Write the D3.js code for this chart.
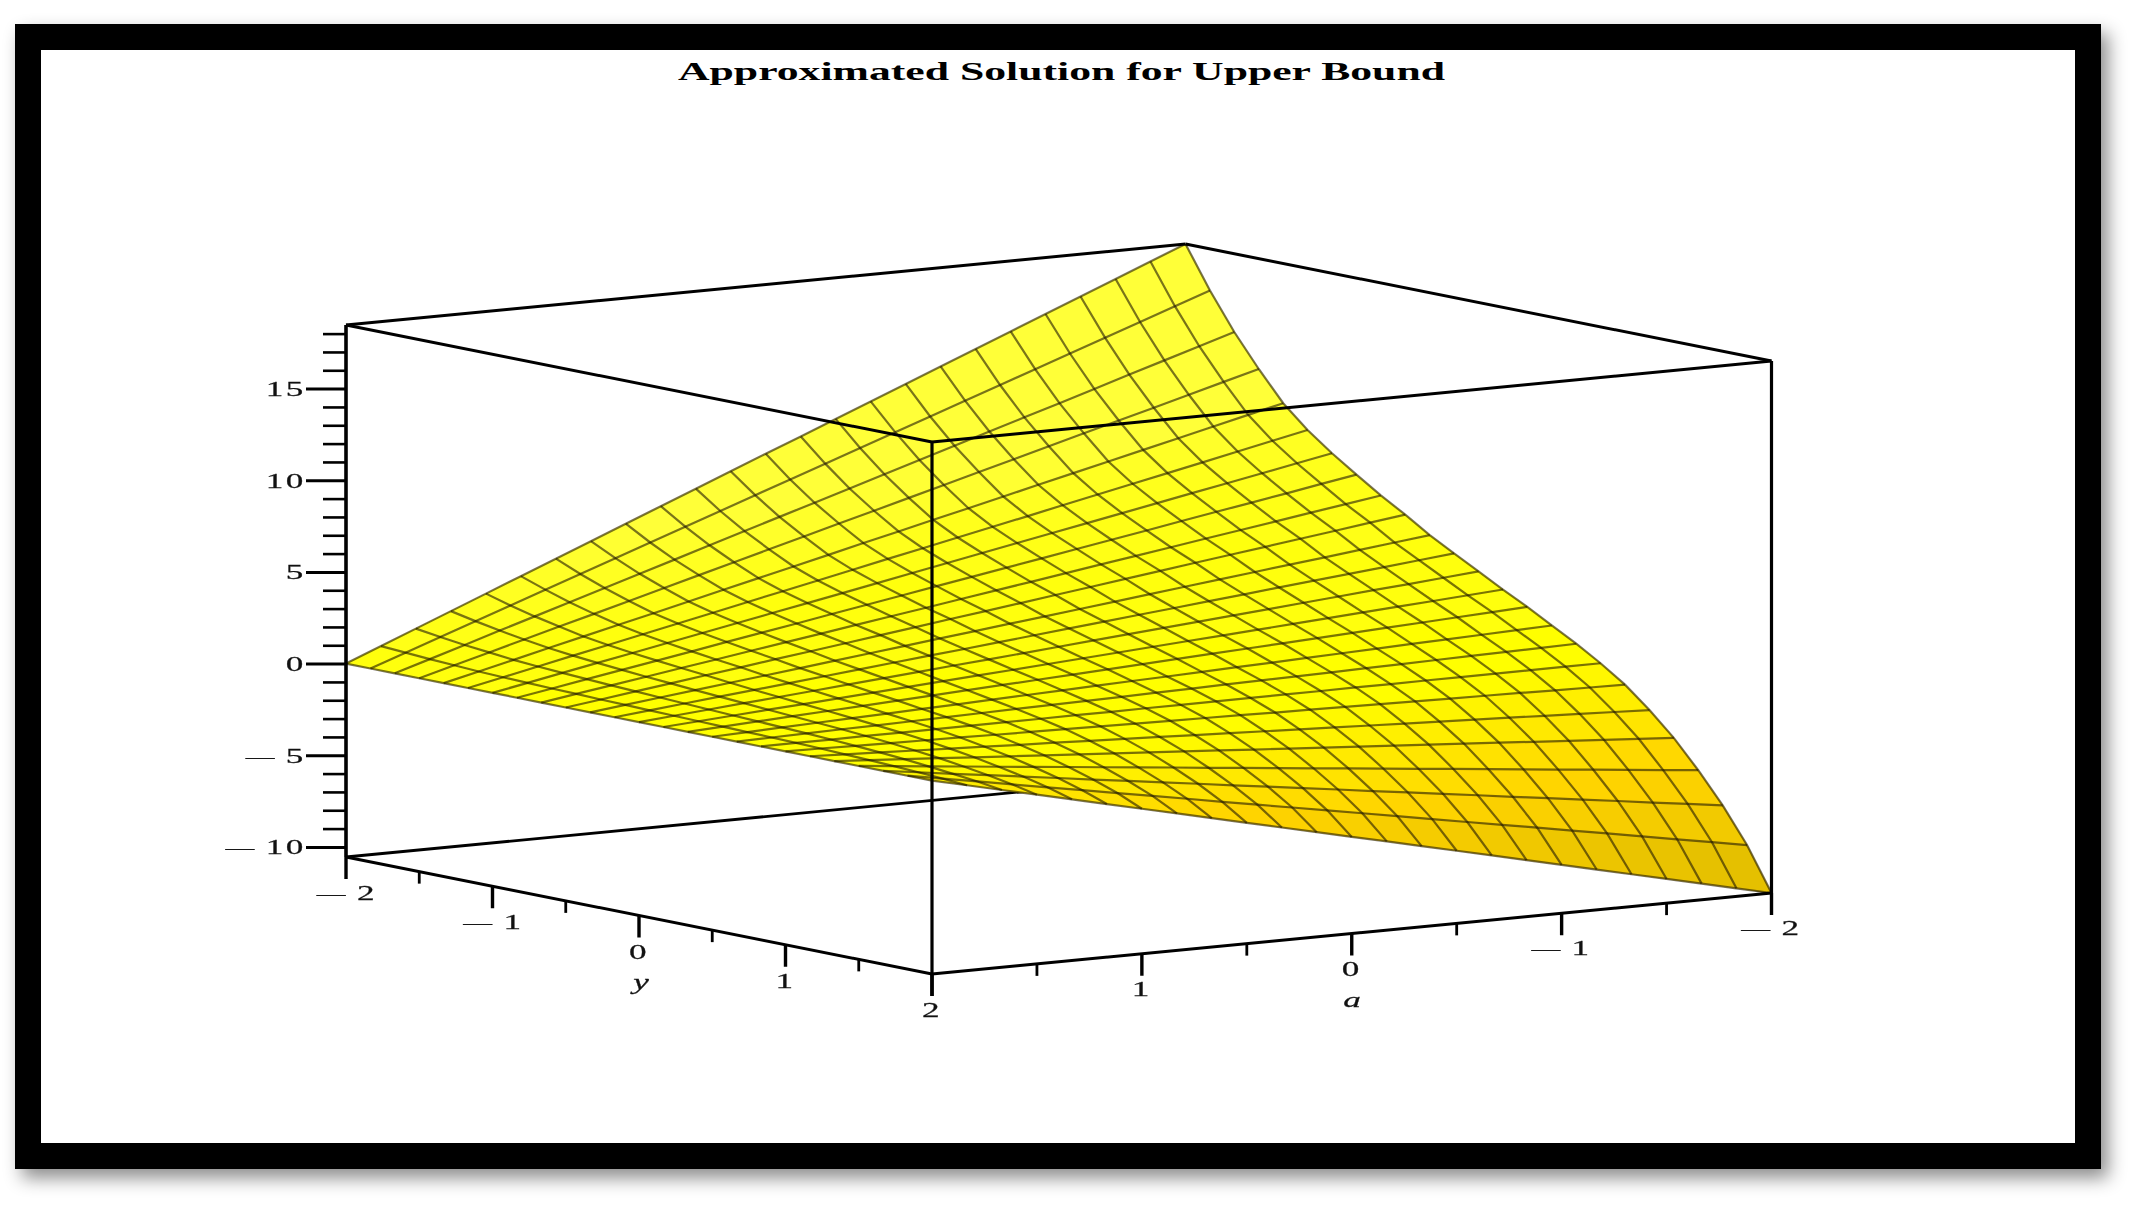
<!DOCTYPE html>
<html><head><meta charset="utf-8"><script src="https://cdn.jsdelivr.net/npm/d3@7"></script>
<style>html,body{margin:0;background:#fff}svg{display:block}</style></head><body><div id="c"></div>
<script>
const titleText='Approximated Solution for Upper Bound';
const aVals=[2,1.833,1.667,1.5,1.333,1.167,1,0.833,0.667,0.5,0.333,0.167,0,-0.167,-0.333,-0.5,-0.667,-0.833,-1,-1.167,-1.333,-1.5,-1.667,-1.833,-2];
const yVals=[-2,-1.833,-1.667,-1.5,-1.333,-1.167,-1,-0.833,-0.667,-0.5,-0.333,-0.167,0,0.167,0.333,0.5,0.667,0.833,1,1.167,1.333,1.5,1.667,1.833,2];
const zRange=[-10.55,18.47];
const zMajor=[-10,-5,0,5,10,15];
const zMinor=[-9,-8,-7,-6,-4,-3,-2,-1,1,2,3,4,6,7,8,9,11,12,13,14,16,17,18];
const baseMajor=[-2,-1,0,1,2];
const baseMinor=[-1.5,-0.5,0.5,1.5];
// z at each (y row, a column)
const zTable=[
[0,.77,1.54,2.31,3.08,3.85,4.62,5.39,6.16,6.93,7.70,8.47,9.24,10.00,10.77,11.54,12.31,13.08,13.85,14.62,15.39,16.16,16.93,17.70,18.47],
[0,.68,1.35,2.03,2.70,3.38,4.05,4.73,5.40,6.08,6.75,7.43,8.10,8.78,9.45,10.13,10.80,11.48,12.15,12.83,13.50,14.18,14.85,15.53,16.20],
[0,.59,1.18,1.78,2.37,2.96,3.55,4.14,4.73,5.33,5.92,6.51,7.10,7.69,8.28,8.88,9.47,10.06,10.65,11.24,11.83,12.43,13.02,13.61,14.20],
[0,.52,1.04,1.56,2.08,2.59,3.11,3.63,4.15,4.67,5.19,5.71,6.23,6.74,7.26,7.78,8.30,8.82,9.34,9.86,10.38,10.89,11.41,11.93,12.45],
[0,.45,.90,1.36,1.81,2.26,2.71,3.16,3.62,4.07,4.52,4.97,5.43,5.88,6.33,6.78,7.23,7.69,8.14,8.59,9.04,9.49,9.95,10.40,10.85],
[0,.40,.80,1.21,1.61,2.01,2.41,2.81,3.22,3.62,4.02,4.42,4.83,5.23,5.63,6.03,6.43,6.84,7.24,7.64,8.04,8.44,8.85,9.25,9.65],
[0,.36,.72,1.08,1.44,1.80,2.16,2.52,2.88,3.24,3.60,3.96,4.33,4.69,5.05,5.41,5.77,6.13,6.49,6.85,7.21,7.57,7.93,8.29,8.65],
[0,.32,.65,.97,1.29,1.61,1.94,2.26,2.58,2.91,3.23,3.55,3.88,4.20,4.52,4.84,5.17,5.49,5.81,6.14,6.46,6.78,7.10,7.43,7.75],
[0,.29,.57,.86,1.15,1.43,1.72,2.01,2.29,2.58,2.87,3.15,3.44,3.73,4.01,4.30,4.59,4.87,5.16,5.45,5.73,6.02,6.31,6.59,6.88],
[0,.25,.51,.76,1.02,1.27,1.53,1.78,2.03,2.29,2.54,2.80,3.05,3.30,3.56,3.81,4.07,4.32,4.58,4.83,5.08,5.34,5.59,5.85,6.10],
[0,.22,.44,.66,.88,1.09,1.31,1.53,1.75,1.97,2.19,2.41,2.63,2.84,3.06,3.28,3.50,3.72,3.94,4.16,4.38,4.59,4.81,5.03,5.25],
[0,.19,.38,.57,.75,.94,1.13,1.32,1.51,1.70,1.88,2.07,2.26,2.45,2.64,2.83,3.01,3.20,3.39,3.58,3.77,3.95,4.14,4.33,4.52],
[0,.16,.32,.48,.63,.79,.95,1.11,1.27,1.43,1.58,1.74,1.90,2.06,2.22,2.38,2.53,2.69,2.85,3.01,3.17,3.33,3.48,3.64,3.80],
[0,.13,.26,.39,.51,.64,.77,.90,1.03,1.16,1.28,1.41,1.54,1.67,1.80,1.93,2.05,2.18,2.31,2.44,2.57,2.70,2.82,2.95,3.08],
[0,.10,.20,.30,.40,.50,.60,.70,.80,.90,1.00,1.10,1.20,1.30,1.40,1.50,1.60,1.70,1.80,1.90,2.00,2.10,2.20,2.30,2.40],
[0,.07,.14,.21,.28,.34,.41,.48,.55,.62,.69,.76,.83,.89,.96,1.03,1.10,1.17,1.24,1.31,1.38,1.44,1.51,1.58,1.65],
[0,.04,.08,.12,.15,.19,.23,.27,.31,.35,.38,.42,.46,.50,.54,.58,.61,.65,.69,.73,.77,.81,.84,.88,.92],
[0,.01,.01,.02,.02,.03,.03,.04,.04,.05,.05,.06,.06,.07,.07,.08,.08,.09,.09,.10,.10,.11,.11,.12,.12],
[0,-.03,-.07,-.10,-.13,-.16,-.20,-.23,-.26,-.29,-.33,-.36,-.39,-.42,-.46,-.49,-.52,-.55,-.59,-.62,-.65,-.68,-.72,-.75,-.78],
[0,-.08,-.16,-.24,-.32,-.40,-.48,-.55,-.63,-.71,-.79,-.87,-.95,-1.03,-1.11,-1.19,-1.27,-1.35,-1.43,-1.50,-1.58,-1.66,-1.74,-1.82,-1.90],
[0,-.13,-.26,-.39,-.53,-.66,-.79,-.92,-1.05,-1.18,-1.31,-1.44,-1.58,-1.71,-1.84,-1.97,-2.10,-2.23,-2.36,-2.49,-2.63,-2.76,-2.89,-3.02,-3.15],
[0,-.19,-.39,-.58,-.78,-.97,-1.16,-1.36,-1.55,-1.74,-1.94,-2.13,-2.33,-2.52,-2.71,-2.91,-3.10,-3.29,-3.49,-3.68,-3.88,-4.07,-4.26,-4.46,-4.65],
[0,-.26,-.53,-.79,-1.05,-1.31,-1.58,-1.84,-2.10,-2.36,-2.63,-2.89,-3.15,-3.41,-3.68,-3.94,-4.20,-4.46,-4.73,-4.99,-5.25,-5.51,-5.78,-6.04,-6.30],
[0,-.34,-.68,-1.03,-1.37,-1.71,-2.05,-2.39,-2.73,-3.08,-3.42,-3.76,-4.10,-4.44,-4.78,-5.13,-5.47,-5.81,-6.15,-6.49,-6.83,-7.18,-7.52,-7.86,-8.20],
[0,-.44,-.88,-1.32,-1.76,-2.20,-2.64,-3.08,-3.52,-3.96,-4.40,-4.84,-5.28,-5.71,-6.15,-6.59,-7.03,-7.47,-7.91,-8.35,-8.79,-9.23,-9.67,-10.11,-10.55]
];

const W=2133,H=1214;
const svg=d3.select('#c').append('svg').attr('width',W).attr('height',H);
const defs=svg.append('defs');
const f=defs.append('filter').attr('id','sh').attr('x','-5%').attr('y','-5%').attr('width','110%').attr('height','110%');
f.append('feDropShadow').attr('dx',7).attr('dy',9).attr('stdDeviation',9).attr('flood-color','#000').attr('flood-opacity',.45);
defs.append('filter').attr('id','soft').append('feGaussianBlur').attr('stdDeviation',.6);
svg.append('rect').attr('x',15).attr('y',24).attr('width',2086).attr('height',1145).attr('fill','#000').attr('filter','url(#sh)');
svg.append('rect').attr('x',41).attr('y',50).attr('width',2034).attr('height',1093).attr('fill','#fff');

// orthographic projection: each data axis contributes one screen vector
const aX=d3.scaleLinear([2,-2],[932,1771.5]),aY=d3.scaleLinear([2,-2],[0,-81]);
const yX=d3.scaleLinear([2,-2],[0,-586]),yY=d3.scaleLinear([2,-2],[0,-117]);
const zS=d3.scaleLinear(zRange,[974,442]);
const P=(a,y,z)=>[aX(a)+yX(y),zS(z)+aY(a)+yY(y)];
const [zb,zt]=zRange;
const seg=(g,p,q,w)=>g.append('line').attr('x1',p[0]).attr('y1',p[1]).attr('x2',q[0]).attr('y2',q[1]).attr('stroke','#000').attr('stroke-width',w);

// box edges behind the surface
const back=svg.append('g').attr('filter','url(#soft)');
seg(back,P(2,-2,zb),P(-2,-2,zb),2.8);
seg(back,P(-2,-2,zb),P(-2,2,zb),2.8);
seg(back,P(-2,-2,zb),P(-2,-2,zt),2.8);

// surface, shaded from its local slopes
const n=aVals.length-1,m=yVals.length-1;
const dark=d3.scaleLinear([0.15,0.5,0.95],['#ffff00','#ffd400','#dcb900']).clamp(true);
const col=(i,j)=>{
  const p=(zTable[j][i+1]-zTable[j][i])/(aVals[i+1]-aVals[i])*4/29;
  const q=Math.abs((zTable[j+1][i]-zTable[j][i])/(yVals[j+1]-yVals[j])*4/29);
  const c=d3.color(dark(p+0.3*q));
  if(p<0)c.b=Math.min(55,100*(-p)*(q+0.234));
  return c+'';
};
const pt=(i,j)=>P(aVals[i],yVals[j],zTable[j][i]);
const cells=d3.cross(d3.range(m),d3.range(n));
const surf=svg.append('g').attr('filter','url(#soft)');
surf.selectAll('path.c').data(cells).join('path').attr('class','c')
  .attr('d',([j,i])=>d3.line()([pt(i,j),pt(i+1,j),pt(i+1,j+1),pt(i,j+1)])+'Z')
  .attr('fill',([j,i])=>col(i,j)).attr('stroke',([j,i])=>col(i,j)).attr('stroke-width',.7);
const grid=surf.append('g').attr('fill','none').attr('stroke','#201800').attr('stroke-opacity',.6).attr('stroke-width',2.2);
const line=d3.line();
yVals.forEach((_,j)=>grid.append('path').attr('d',line(aVals.map((_,i)=>pt(i,j)))));
aVals.forEach((_,i)=>grid.append('path').attr('d',line(yVals.map((_,j)=>pt(i,j)))));

// box edges in front of the surface
const fr=svg.append('g').attr('filter','url(#soft)');
seg(fr,P(2,-2,zb),P(2,-2,zt),3.6);
seg(fr,P(2,2,zb),P(2,2,zt),3.2);
seg(fr,P(-2,2,zb),P(-2,2,zt),3.2);
seg(fr,P(2,-2,zt),P(-2,-2,zt),3);
seg(fr,P(-2,-2,zt),P(-2,2,zt),3);
seg(fr,P(-2,2,zt),P(2,2,zt),3);
seg(fr,P(2,2,zt),P(2,-2,zt),3);
seg(fr,P(2,-2,zb),P(2,2,zb),3);
seg(fr,P(2,2,zb),P(-2,2,zb),3);

// z axis ticks along the left vertical edge
const [leftX]=P(2,-2,0);
const zLeft=zS.copy().range(zRange.map(z=>P(2,-2,z)[1]));
const drawZ=(vals,size,w)=>fr.append('g').attr('transform',`translate(${leftX},0)`)
  .call(d3.axisLeft(zLeft).tickValues(vals).tickSize(size).tickFormat(''))
  .call(g=>g.select('.domain').remove())
  .call(g=>g.selectAll('line').attr('stroke','#000').attr('stroke-width',w));
drawZ(zMajor,40,3);
drawZ(zMinor,23,2.6);

// base axis ticks
const baseTicks=(fn)=>{
  baseMajor.forEach(t=>{const p=fn(t);seg(fr,p,[p[0],p[1]+22],3.4)});
  baseMinor.forEach(t=>{const p=fn(t);seg(fr,p,[p[0],p[1]+12],2.8)});
};
const onY=t=>P(2,t,zb),onA=t=>P(t,2,zb);
baseTicks(onY);baseTicks(onA);

// text
const T=(t,x,y,o={})=>{
  const el=svg.append('text').attr('transform',`translate(${x},${y}) scale(1.6,1)`)
    .attr('text-anchor',o.a||'middle').attr('font-family','Liberation Serif').attr('font-size',22)
    .attr('font-style',o.i?'italic':null).attr('letter-spacing',o.i?0:1.6)
    .attr('fill','#111').attr('stroke','#111').attr('stroke-width',.25);
  if(typeof t==='number'&&t<0)el.append('tspan').attr('font-size',18).attr('letter-spacing',0).text('—');
  el.append('tspan').attr('xml:space','preserve').text((typeof t==='number'&&t<0?'\u00a0':'')+(typeof t==='number'?Math.abs(t):t));
};
svg.append('text').attr('x',678).attr('y',80).attr('textLength',767).attr('lengthAdjust','spacingAndGlyphs')
  .attr('font-family','Liberation Serif').attr('font-weight','bold').attr('font-size',26).attr('fill','#000').text(titleText);
zMajor.forEach(t=>T(t,306,zLeft(t)+7.5,{a:'end'}));
baseMajor.forEach(t=>{const p=onY(t);T(t,p[0]+(t<0?1:0),p[1]+43)});
baseMajor.slice(0,-1).forEach(t=>{const p=onA(t);T(t,p[0],p[1]+42)});
T('y',641,989,{i:1});T('a',1352,1007,{i:1});
</script></body></html>
